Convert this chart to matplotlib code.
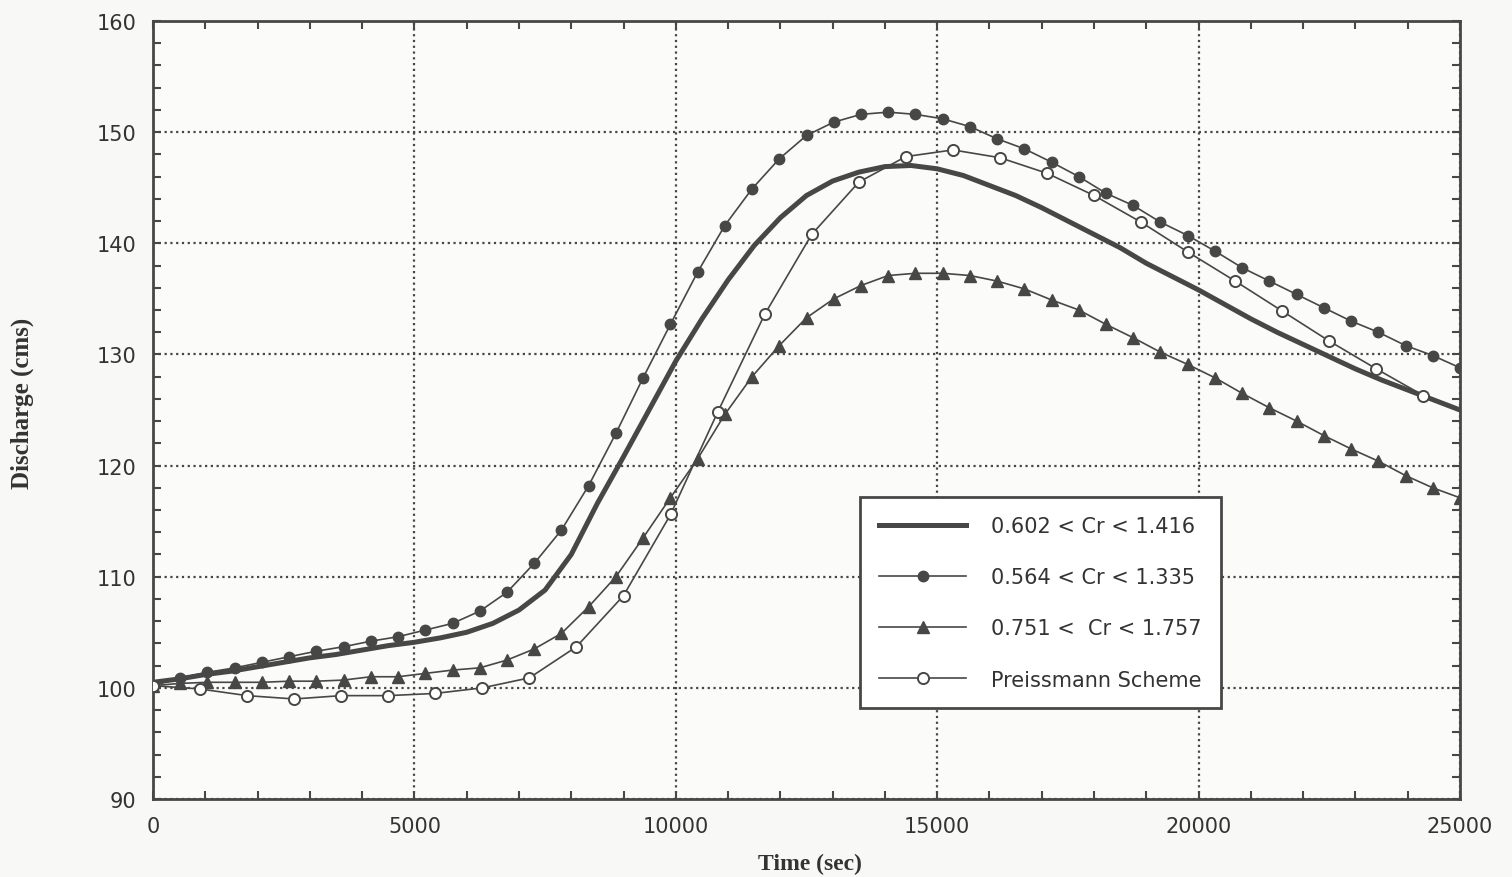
import numpy as np
import matplotlib
matplotlib.use('Agg')
import matplotlib.pyplot as plt
from matplotlib.ticker import MultipleLocator

# thick line, 0.602 < Cr < 1.416 (read every 500 s)
t_a = np.arange(0, 25001, 500)
q_a = [100.5, 100.8, 101.2, 101.5, 101.9, 102.3, 102.7, 103.0, 103.4, 103.8,
       104.1, 104.5, 105.0, 105.8, 107.0, 108.8, 112.0, 116.6, 120.8, 125.1,
       129.4, 133.2, 136.7, 139.8, 142.3, 144.3, 145.6, 146.4, 146.9, 147.0,
       146.7, 146.1, 145.2, 144.3, 143.2, 142.0, 140.8, 139.6, 138.2, 137.0,
       135.8, 134.5, 133.2, 132.0, 130.9, 129.8, 128.7, 127.7, 126.8, 125.9,
       125.0]

# filled circles, 0.564 < Cr < 1.335 (48 steps over 25000 s)
t_b = np.linspace(0, 25000, 49)
q_b = [100.2, 100.9, 101.4, 101.8, 102.3, 102.8, 103.3, 103.7, 104.2, 104.6,
       105.2, 105.8, 106.9, 108.6, 111.2, 114.2, 118.2, 122.9, 127.9, 132.7,
       137.4, 141.6, 144.9, 147.6, 149.7, 150.9, 151.6, 151.8, 151.6, 151.2,
       150.5, 149.4, 148.5, 147.3, 146.0, 144.5, 143.4, 141.9, 140.7, 139.3,
       137.8, 136.6, 135.4, 134.2, 133.0, 132.0, 130.8, 129.9, 128.8]

# filled triangles, 0.751 < Cr < 1.757
t_c = np.linspace(0, 25000, 49)
q_c = [100.2, 100.4, 100.5, 100.5, 100.5, 100.6, 100.6, 100.7, 101.0, 101.0,
       101.3, 101.6, 101.8, 102.5, 103.5, 104.9, 107.3, 110.0, 113.5, 117.1,
       120.6, 124.6, 128.0, 130.8, 133.3, 135.0, 136.2, 137.1, 137.3, 137.3,
       137.1, 136.6, 135.9, 134.9, 134.0, 132.7, 131.5, 130.2, 129.1, 127.9,
       126.5, 125.2, 124.0, 122.7, 121.5, 120.4, 119.1, 118.0, 117.1]

# open circles, Preissmann scheme (every 900 s)
t_d = np.arange(0, 24301, 900)
q_d = [100.2, 99.9, 99.3, 99.0, 99.3, 99.3, 99.5, 100.0, 100.9, 103.7,
       108.3, 115.6, 124.8, 133.6, 140.8, 145.5, 147.8, 148.4, 147.7, 146.3,
       144.3, 141.9, 139.2, 136.6, 133.9, 131.2, 128.7, 126.3]

labels = ['0.602 < Cr < 1.416', '0.564 < Cr < 1.335',
          '0.751 <  Cr < 1.757', 'Preissmann Scheme']

ink = '#474747'

fig = plt.figure(figsize=(15.12, 8.78), dpi=100)
fig.patch.set_facecolor('#f8f8f6')
ax = fig.add_axes([153/1512, 1 - 800/878, 1307/1512, 778/878])
ax.set_facecolor('#fbfbfa')

ax.plot(t_a, q_a, color=ink, lw=3.6, label=labels[0], zorder=3)
ax.plot(t_b, q_b, color=ink, lw=1.2, marker='o', ms=7.5, mfc=ink, mec=ink,
        label=labels[1], zorder=4)
ax.plot(t_c, q_c, color=ink, lw=1.2, marker='^', ms=8, mfc=ink, mec=ink,
        label=labels[2], zorder=4)
ax.plot(t_d, q_d, color=ink, lw=1.2, marker='o', ms=8, mfc='white', mec=ink,
        mew=1.4, label=labels[3], zorder=4)

ax.set_xlim(0, 25000)
ax.set_ylim(90, 160)
ax.xaxis.set_major_locator(MultipleLocator(5000))
ax.xaxis.set_minor_locator(MultipleLocator(1000))
ax.yaxis.set_major_locator(MultipleLocator(10))
ax.yaxis.set_minor_locator(MultipleLocator(2))
ax.tick_params(which='both', direction='in', top=True, right=True,
               color=ink, width=1.5, labelsize=15, labelcolor='#333333')
ax.tick_params(which='major', length=6, pad=12)
ax.tick_params(which='minor', length=6)
ax.grid(True, which='major', linestyle=(0, (1, 1.6)), color=ink, lw=1.6)
for s in ax.spines.values():
    s.set_color(ink)
    s.set_linewidth(2)

leg = ax.legend(loc='upper left', bbox_to_anchor=(0.541, 0.388),
                fontsize=15, handlelength=4.2, labelspacing=1.5,
                borderpad=0.9, handletextpad=1.2, fancybox=False,
                framealpha=1, edgecolor=ink, borderaxespad=0)
leg.get_frame().set_linewidth(2)
for txt in leg.get_texts():
    txt.set_color('#333333')

fig.text(810/1512, 1 - 864/878, 'Time (sec)', ha='center', va='center',
         family='Liberation Serif', weight='bold', fontsize=17, color='#333333')
fig.text(22/1512, 1 - 403/878, 'Discharge (cms)', ha='center', va='center',
         rotation=90, family='Liberation Serif', weight='bold', fontsize=18,
         color='#333333')

fig.savefig('out.png', dpi=100, facecolor=fig.get_facecolor())
